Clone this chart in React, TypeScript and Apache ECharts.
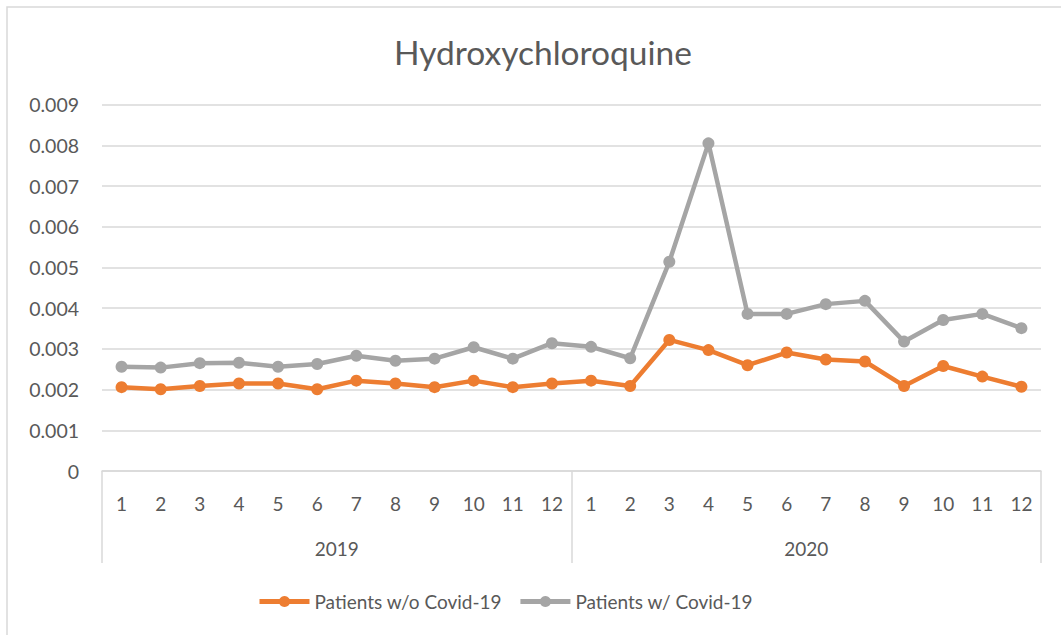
import React, { useEffect, useRef } from "react";
import * as echarts from "echarts";

const months = ["1","2","3","4","5","6","7","8","9","10","11","12","1","2","3","4","5","6","7","8","9","10","11","12"];
const years = ["2019", "2020"];
const withoutCovid = [0.00206,0.00201,0.00209,0.00215,0.00215,0.00201,0.00222,0.00215,0.00206,0.00222,0.00206,0.00215,
  0.00222,0.00209,0.00322,0.00297,0.00260,0.00291,0.00274,0.00269,0.00209,0.00258,0.00232,0.00207];
const withCovid = [0.00256,0.00254,0.00265,0.00266,0.00256,0.00263,0.00283,0.00271,0.00276,0.00304,0.00276,0.00314,
  0.00305,0.00277,0.00514,0.00805,0.00386,0.00386,0.00410,0.00418,0.00318,0.00371,0.00386,0.00351];
const yTicks = { min: 0, max: 0.009, interval: 0.001 };

const FONT = "Lato";
const TXT = "#595959";
const GRID = "#d9d9d9";

export default function App() {
  const ref = useRef<HTMLDivElement>(null);
  useEffect(() => {
    if (!ref.current) return;
    const chart = echarts.init(ref.current, undefined, { renderer: "svg" });
    chart.setOption({
      animation: false,
      backgroundColor: "#ffffff",
      textStyle: { fontFamily: FONT },
      title: {
        text: "Hydroxychloroquine",
        left: 538,
        textAlign: "center",
        top: 30,
        textStyle: { fontFamily: FONT, fontSize: 33.5, fontWeight: "normal", color: TXT },
      },
      graphic: [
        {
          type: "rect",
          shape: { x: 7, y: 7, width: 1100, height: 700 },
          style: { fill: "none", stroke: GRID, lineWidth: 1.5 },
          silent: true,
        },
      ],
      legend: {
        left: 252,
        top: 587,
        itemWidth: 50,
        itemHeight: 14,
        itemGap: 16,
        lineStyle: { width: 5 },
        textStyle: { fontFamily: FONT, fontSize: 19, color: TXT },
        data: ["Patients w/o Covid-19", "Patients w/ Covid-19"],
      },
      grid: { left: 102, right: 20, top: 104.7, bottom: 164, containLabel: false },
      xAxis: [
        {
          type: "category",
          data: months,
          boundaryGap: true,
          axisLine: { show: true, lineStyle: { color: GRID, width: 1.5 } },
          axisTick: { show: false },
          axisLabel: { interval: 0, margin: 23, fontFamily: FONT, fontSize: 19, color: TXT },
        },
        {
          type: "category",
          data: years,
          position: "bottom",
          boundaryGap: true,
          axisLine: { show: false },
          axisTick: { show: true, length: 92, lineStyle: { color: GRID, width: 1.5 } },
          axisLabel: { interval: 0, margin: 68, fontFamily: FONT, fontSize: 19, color: TXT },
        },
      ],
      yAxis: {
        type: "value",
        min: yTicks.min,
        max: yTicks.max,
        interval: yTicks.interval,
        axisLine: { show: false },
        axisTick: { show: false },
        splitLine: { lineStyle: { color: GRID, width: 1.5 } },
        axisLabel: {
          margin: 23,
          fontFamily: FONT,
          fontSize: 19.5,
          color: TXT,
          formatter: (v: number) => (v === 0 ? "0" : v.toFixed(3)),
        },
      },
      series: [
        {
          name: "Patients w/o Covid-19",
          type: "line",
          data: withoutCovid,
          xAxisIndex: 0,
          symbol: "circle",
          symbolSize: 12,
          itemStyle: { color: "#ED7D31" },
          lineStyle: { color: "#ED7D31", width: 4.5 },
        },
        {
          name: "Patients w/ Covid-19",
          type: "line",
          data: withCovid,
          xAxisIndex: 0,
          symbol: "circle",
          symbolSize: 12,
          itemStyle: { color: "#A5A5A5" },
          lineStyle: { color: "#A5A5A5", width: 4.5 },
        },
      ],
    });
    return () => chart.dispose();
  }, []);
  return <div ref={ref} style={{ width: 1061, height: 635, position: "absolute", left: 0, top: 0 }} />;
}
